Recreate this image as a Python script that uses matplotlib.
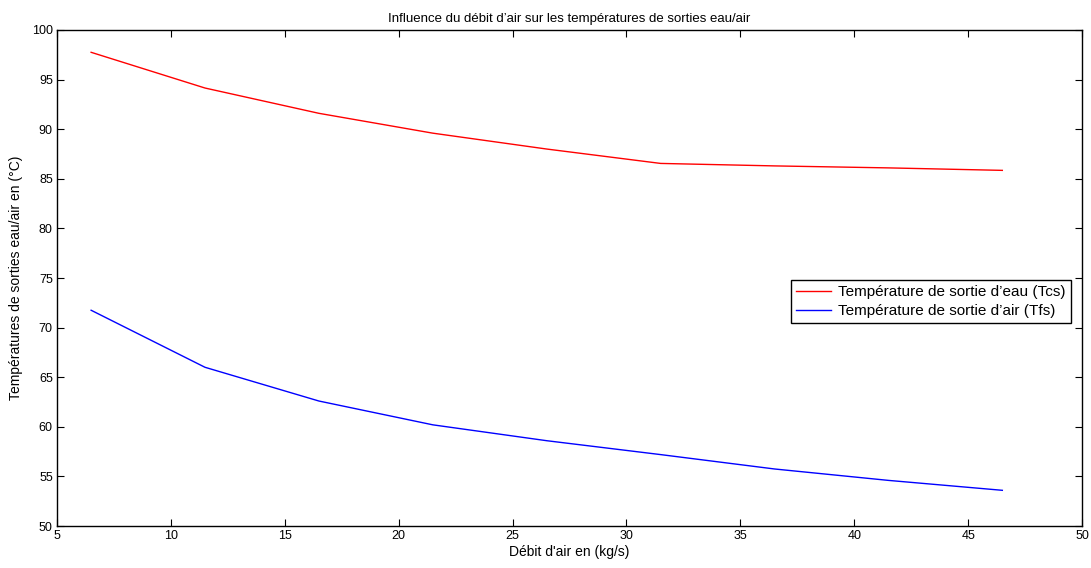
import matplotlib.pyplot as plt

# données
debit_air = [6.5, 11.5, 16.5, 21.5, 26.5, 31.5, 36.5, 41.5, 46.5]
t_eau = [97.75, 94.15, 91.6, 89.6, 88.0, 86.55, 86.3, 86.1, 85.85]
t_air = [71.75, 66.0, 62.6, 60.2, 58.6, 57.2, 55.75, 54.6, 53.6]

x_ticks = list(range(5, 51, 5))
y_ticks = list(range(50, 101, 5))

plt.rcParams['font.family'] = ['Liberation Sans', 'DejaVu Sans']

fig = plt.figure(figsize=(10.91, 5.68), dpi=100)
ax = fig.add_axes([0.0522, 0.0739, 0.9396, 0.8733])

ax.plot(debit_air, t_eau, color='red', lw=1.0, label="Température de sortie d\u2019eau (Tcs)")
ax.plot(debit_air, t_air, color='blue', lw=1.0, label="Température de sortie d\u2019air (Tfs)")

ax.set_xlim(5, 50)
ax.set_ylim(50, 100)
ax.set_xticks(x_ticks)
ax.set_yticks(y_ticks)
ax.tick_params(direction='in', top=True, right=True, length=5, width=0.8,
               labelsize=9, pad=3)
for s in ax.spines.values():
    s.set_linewidth(1.0)

ax.set_title("Influence du débit d\u2019air sur les températures de sorties eau/air",
             fontsize=9.5, pad=6)
ax.set_xlabel("Débit d'air en (kg/s)", fontsize=10, labelpad=2)
ax.set_ylabel("Températures de sorties eau/air en (°C)", fontsize=10, labelpad=6)

leg = ax.legend(loc='upper right', bbox_to_anchor=(0.989, 0.496), fontsize=11,
                frameon=True, fancybox=False, edgecolor='black', framealpha=1,
                handlelength=2.3, handletextpad=0.45, borderpad=0.35,
                labelspacing=0.3, borderaxespad=0)
leg.get_frame().set_linewidth(1.0)

fig.savefig("out.png", dpi=100)
